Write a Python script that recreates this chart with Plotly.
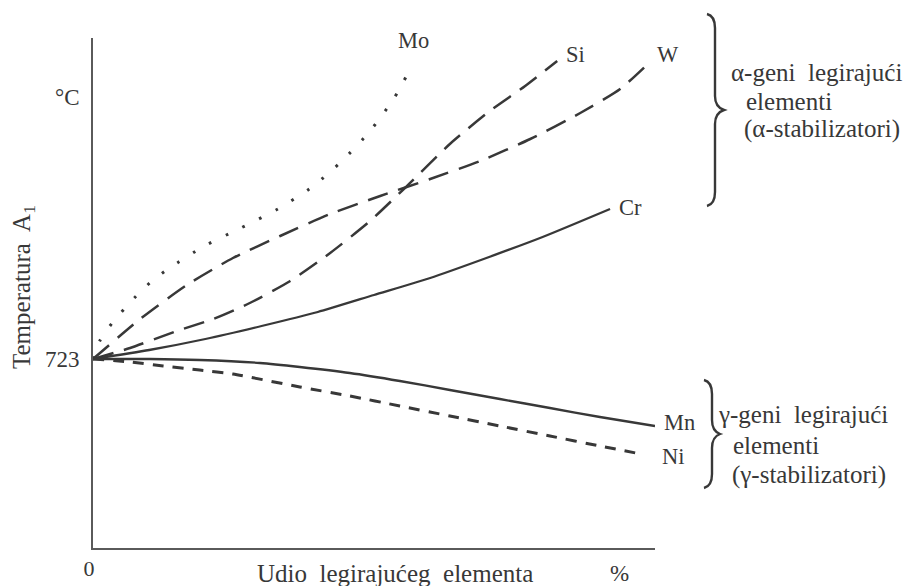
import plotly.graph_objects as go

# ---- data (schematic: alloy content as % of axis length, A1 temperature in °C) ----
mo_x = [0, 1.2, 3.4, 5.7, 8.2, 10.9, 13.9, 19.8, 26.3, 32.9, 39.0, 44.3, 49.3, 53.6, 56.9]
mo_y = [723, 741, 759, 774, 789, 803, 815, 836, 854, 873, 895, 921, 951, 984, 1018]

si_x = [0, 6.6, 14.9, 21.4, 27.9, 35.1, 42.2, 49.3, 55.5, 63.5, 70.6, 76.9, 82.6]
si_y = [723, 734, 751, 763, 779, 801, 829, 861, 894, 938, 971, 996, 1021]

w_x = [0, 8.4, 16.7, 24.9, 33.3, 42.2, 51.1, 60.0, 68.9, 77.8, 86.7, 93.8, 99.1]
w_y = [723, 763, 797, 824, 846, 868, 886, 903, 921, 943, 969, 993, 1020]

cr_x = [0, 10, 20, 30, 40, 50, 60, 70, 80, 92]
cr_y = [723, 732, 743, 756, 770, 787, 804, 824, 845, 873]

mn_x = [0, 10.1, 19.0, 29.7, 36.8, 45.7, 54.6, 63.5, 72.4, 81.3, 90.2, 100]
mn_y = [723, 723, 722, 719, 715, 709, 701, 692, 683, 674, 665, 656]

ni_x = [0, 6.6, 12.5, 19.0, 24.9, 36.8, 45.7, 54.6, 63.5, 72.4, 81.3, 90.2, 97.5]
ni_y = [723, 720, 716, 712, 708, 695, 686, 676, 666, 656, 646, 636, 628]

y_tick_vals = [723]
y_tick_text = ["723"]
x_tick_vals = [0]
x_tick_text = ["0"]

FONT = "Liberation Serif"
INK = "#383838"
AXIS = "#5a5a5a"

fig = go.Figure()

def add(x, y, dash, width, name):
    fig.add_trace(go.Scatter(x=x, y=y, mode="lines", name=name,
                             line=dict(color=INK, width=width, dash=dash, shape="spline", smoothing=0.6),
                             showlegend=False, hoverinfo="skip"))

add(mo_x, mo_y, "2.6px,16px", 3.0, "Mo")
add(si_x, si_y, "21px,11px", 2.5, "Si")
add(w_x, w_y, "21px,11px", 2.5, "W")
add(cr_x, cr_y, "solid", 2.3, "Cr")
add(mn_x, mn_y, "solid", 2.3, "Mn")
add(ni_x, ni_y, "11px,9px", 3.0, "Ni")

# series labels at curve ends
def lab(text, x, y, xs, ys, anchor="left"):
    fig.add_annotation(x=x, y=y, text=text, showarrow=False, xanchor=anchor, yanchor="middle",
                       xshift=xs, yshift=ys, font=dict(family=FONT, size=22.5, color=INK))

lab("Mo", mo_x[-1], mo_y[-1], 1, 24, "center")
lab("Si", si_x[-1], si_y[-1], 7, 7)
lab("W", w_x[-1], w_y[-1], 5, 8)
lab("Cr", cr_x[-1], cr_y[-1], 7, 2)
lab("Mn", mn_x[-1], mn_y[-1], 7, 4)
lab("Ni", ni_x[-1], ni_y[-1], 19, -2)

# pixel -> paper helpers for decorations
L, R, T, B = 93, 251, 38, 38
PW, PH = 906 - L - R, 586 - T - B
def px(x):
    return (x - L) / PW
def py(y):
    return 1 - (y - T) / PH

def brace(x0, ytop, ybot, depth, tip):
    ym = (ytop + ybot) / 2
    xs = x0 + depth
    pts = [
        f"M {px(x0)},{py(ytop)}",
        f"Q {px(xs)},{py(ytop+2)} {px(xs)},{py(ytop+14)}",
        f"L {px(xs)},{py(ym-14)}",
        f"Q {px(xs)},{py(ym-3)} {px(xs+tip)},{py(ym)}",
        f"Q {px(xs)},{py(ym+3)} {px(xs)},{py(ym+14)}",
        f"L {px(xs)},{py(ybot-14)}",
        f"Q {px(xs)},{py(ybot-2)} {px(x0)},{py(ybot)}",
    ]
    fig.add_shape(type="path", path=" ".join(pts), xref="paper", yref="paper",
                  line=dict(color=INK, width=2.4))

brace(707, 14, 206, 8, 9)
brace(704, 380, 488, 8, 8)

def txt(text, x, y, size, anchor="left", angle=0):
    fig.add_annotation(x=px(x), y=py(y), xref="paper", yref="paper", text=text, showarrow=False,
                       xanchor=anchor, yanchor="middle", textangle=angle,
                       font=dict(family=FONT, size=size, color=INK))

RS = 25
txt("α-geni  legirajući", 729, 73, RS)
txt("elementi", 744, 101, RS)
txt("(α-stabilizatori)", 742, 129, RS)
txt("γ-geni  legirajući", 716, 414, RS)
txt("elementi", 731, 445, RS)
txt("(γ-stabilizatori)", 730, 475, RS)

txt("°C", 67, 97, 23, "center")
txt("Temperatura  A<sub>1</sub>", 23, 287, 25, "center", -90)
txt("Udio  legirajućeg  elementa", 395, 573, 25, "center")
txt("%", 619, 573, 23, "center")

fig.update_layout(
    width=906, height=586,
    margin=dict(l=L, r=R, t=T, b=B),
    paper_bgcolor="white", plot_bgcolor="white",
    xaxis=dict(range=[0, 100], showline=True, linecolor=AXIS, linewidth=2,
               showgrid=False, zeroline=False, ticks="", tickvals=x_tick_vals, ticktext=x_tick_text,
               ticklabelshift=-4,
               tickfont=dict(family=FONT, size=22, color=INK), fixedrange=True, automargin=False),
    yaxis=dict(range=[534, 1044], showline=True, linecolor=AXIS, linewidth=2,
               showgrid=False, zeroline=False, ticks="", tickvals=y_tick_vals, ticktext=y_tick_text,
               ticklabelstandoff=7,
               tickfont=dict(family=FONT, size=23, color=INK), fixedrange=True, automargin=False),
)

fig.write_html("out.html", config={"displayModeBar": False},
               post_script="document.body.style.margin='0';document.body.style.overflow='hidden';")
